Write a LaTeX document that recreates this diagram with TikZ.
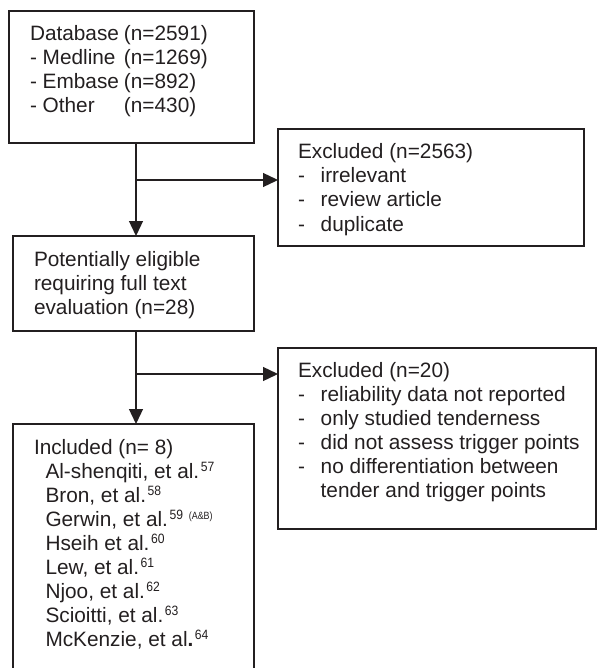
\documentclass[tikz,border=0pt]{standalone}
\usepackage{fontspec}
\setmainfont{Liberation Sans}
\usetikzlibrary{arrows.meta}
\definecolor{ink}{RGB}{35,31,32}
\newcommand\refsup[1]{\hspace{1.5pt}\raisebox{7pt}{\scalebox{0.9}[1]{\fontsize{13.5}{13.5}\selectfont #1}}}
\newcommand\refsmall[1]{\raisebox{7pt}{\scalebox{0.85}[1]{\fontsize{10.5}{10.5}\selectfont #1}}}
\newcommand\dashitem[1]{\makebox[22.7pt][l]{-}#1}
\newcommand\dbitem[2]{\makebox[94pt][l]{#1}#2}
\begin{document}
\begin{tikzpicture}[x=1pt,y=-1pt,
  box/.style={draw=ink, line width=1.6pt, rectangle, anchor=north west, inner sep=0pt, outer sep=0pt},
  txt/.style={anchor=base west, inner sep=0pt, outer sep=0pt, text=ink, font=\fontsize{20.8}{24}\selectfont},
  conn/.style={draw=ink, line width=1.3pt},
  arr/.style={conn, -{Triangle[length=15pt,width=14pt]}},
  ]
\useasboundingbox (0,0) rectangle (597,668);
\clip (0,0) rectangle (597,668);
% boxes
\node[box, minimum width=245pt, minimum height=132pt] (db) at (9,11) {};
\node[box, minimum width=306pt, minimum height=117pt] (exa) at (278,129) {};
\node[box, minimum width=241pt, minimum height=95pt] (pe) at (13,236) {};
\node[box, minimum width=318pt, minimum height=181pt] (exb) at (278,348) {};
\node[box, minimum width=241pt, minimum height=270pt] (inc) at (13,424) {};
% junctions
\coordinate (j1) at (136,180);
\coordinate (j2) at (136,374);
% connectors
\draw[arr] (j1 |- db.south) -- (j1 |- pe.north);
\draw[arr] (j1) -- (j1 -| exa.west);
\draw[arr] (j2 |- pe.south) -- (j2 |- inc.north);
\draw[arr] (j2) -- (j2 -| exb.west);
% box 1 text
\node[txt] (db1) at (30,41) {\dbitem{Database}{(n=2591)}};
\node[txt] (db2) at (30,65) {\dbitem{- Medline}{(n=1269)}};
\node[txt] (db3) at (30,89) {\dbitem{- Embase}{(n=892)}};
\node[txt] (db4) at (30,113) {\dbitem{- Other}{(n=430)}};
% box 2 text
\node[txt] (ea1) at (298,159) {Excluded (n=2563)};
\node[txt] (ea2) at (298,183) {\dashitem{irrelevant}};
\node[txt] (ea3) at (298,207) {\dashitem{review article}};
\node[txt] (ea4) at (298,231) {\dashitem{duplicate}};
% box 3 text
\node[txt] (pe1) at (34,266) {Potentially eligible};
\node[txt] (pe2) at (34,290) {requiring full text};
\node[txt] (pe3) at (34,314) {evaluation (n=28)};
% box 4 text
\node[txt] (eb1) at (298,377) {Excluded (n=20)};
\node[txt] (eb2) at (298,401) {\dashitem{reliability data not reported}};
\node[txt] (eb3) at (298,425) {\dashitem{only studied tenderness}};
\node[txt] (eb4) at (298,449) {\dashitem{did not assess trigger points}};
\node[txt] (eb5) at (298,473) {\dashitem{no differentiation between}};
\node[txt] (eb6) at (320.7,497) {tender and trigger points};
% box 5 text
\node[txt] (in0) at (34,454) {Included (n= 8)};
\node[txt] (in1) at (45.5,478) {Al-shenqiti, et al.\refsup{57}};
\node[txt] (in2) at (45.5,502) {Bron, et al.\refsup{58}};
\node[txt] (in3) at (45.5,526) {Gerwin, et al.\refsup{59} \refsmall{(A\&B)}};
\node[txt] (in4) at (45.5,550) {Hseih et al.\refsup{60}};
\node[txt] (in5) at (45.5,574) {Lew, et al.\refsup{61}};
\node[txt] (in6) at (45.5,598) {Njoo, et al.\refsup{62}};
\node[txt] (in7) at (45.5,622) {Scioitti, et al.\refsup{63}};
\node[txt] (in8) at (45.5,646) {McKenzie, et al\textbf{.}\refsup{64}};
\end{tikzpicture}
\end{document}
